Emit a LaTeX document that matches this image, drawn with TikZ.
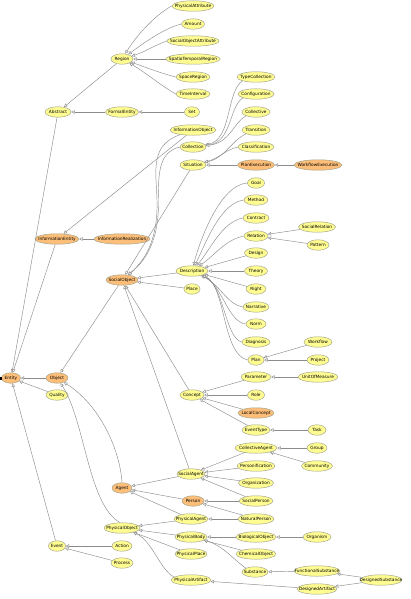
\documentclass[tikz,border=0pt]{standalone}
\usepackage{fontspec}
\setmainfont{DejaVu Sans}
\usetikzlibrary{shapes.geometric,arrows.meta}
\definecolor{yel}{RGB}{255,253,145}
\definecolor{org}{RGB}{252,190,120}
\definecolor{nodeborder}{RGB}{165,165,140}
\definecolor{edgecol}{RGB}{140,140,140}
\newcommand\YNode[4]{\node[yelnode,minimum width=#4pt] (#1) at (#2,#3) {\makebox[0pt]{#1}};}
\newcommand\ONode[4]{\node[orgnode,minimum width=#4pt] (#1) at (#2,#3) {\makebox[0pt]{#1}};}
\newcommand\isaedge[2]{\draw[isa] (#1) -- (#2);}
\begin{document}
\begin{tikzpicture}[x=1pt,y=-1pt,
 basenode/.style={ellipse, inner sep=0pt, minimum height=10.5pt, line width=0.5pt, draw=nodeborder, font=\fontsize{4.3}{5}\selectfont, text=black},
 yelnode/.style={basenode, fill=yel},
 orgnode/.style={basenode, fill=org},
 isa/.style={draw=edgecol, line width=0.45pt, -{Triangle[open,length=3.4pt,width=3.4pt,fill=white]}},
]
\useasboundingbox (0,0) rectangle (410,599);
% top: Region
\YNode{PhysicalAttribute}{193}{6}{42}
\YNode{Amount}{193}{24}{23}
\YNode{SocialObjectAttribute}{193}{41}{52}
\YNode{SpatioTemporalRegion}{193}{59}{54}
\YNode{SpaceRegion}{193}{77}{34}
\YNode{TimeInterval}{193}{94}{34}
\YNode{Region}{122}{59}{22}
\YNode{Abstract}{58}{112}{26}
\YNode{FormalEntity}{122}{112}{33}
\YNode{Set}{192}{112}{15}
\YNode{InformationObject}{193}{130}{46}
\YNode{TypeCollection}{256}{77}{38}
\YNode{Configuration}{256}{94}{36}
\YNode{Collective}{256}{112}{28}
\YNode{Transition}{256}{130}{28}
\YNode{Classification}{256}{147}{36}
\YNode{Collection}{193}{147}{26}
\YNode{Situation}{193}{165}{26}
\ONode{PlanExecution}{256}{165}{37}
\ONode{WorkflowExecution}{318}{165}{48}
% Description
\YNode{Goal}{256}{183}{17}
\YNode{Method}{256}{200}{24}
\YNode{Contract}{256}{218}{26}
\YNode{Relation}{256}{236}{24}
\YNode{SocialRelation}{317}{227}{37}
\YNode{Pattern}{318}{245}{22}
\YNode{Design}{256}{253}{23}
\YNode{Description}{192}{271}{32}
\YNode{Theory}{256}{271}{23}
\YNode{Right}{256}{289}{20}
\YNode{Narrative}{256}{307}{26}
\YNode{Norm}{256}{324}{20}
\YNode{Diagnosis}{256}{342}{28}
\YNode{Plan}{256}{360}{16}
\YNode{Workflow}{318}{342}{28}
\YNode{Project}{318}{360}{22}
\ONode{InformationEntity}{57}{239}{44}
\ONode{InformationRealization}{122}{239}{56}
\ONode{SocialObject}{122}{280}{32}
\YNode{Place}{192}{289}{16}
% Concept
\YNode{Parameter}{256}{377}{30}
\YNode{UnitOfMeasure}{318}{377}{40}
\YNode{Concept}{192}{395}{24}
\YNode{Role}{256}{395}{17}
\ONode{LocalConcept}{256}{413}{36}
\YNode{EventType}{256}{430}{28}
\YNode{Task}{317}{430}{18}
% Entity
\ONode{Entity}{11}{378}{19}
\ONode{Object}{57}{378}{22}
\YNode{Quality}{57}{395}{22}
% Agents
\YNode{CollectiveAgent}{256}{448}{42}
\YNode{Group}{317}{448}{20}
\YNode{Community}{317}{466}{31}
\YNode{Personification}{256}{466}{38}
\YNode{Organization}{256}{483}{35}
\YNode{SocialPerson}{256}{501}{34}
\YNode{NaturalPerson}{256}{519}{36}
\YNode{BiologicalObject}{256}{537}{40}
\YNode{Organism}{317}{537}{28}
\YNode{ChemicalObject}{256}{554}{40}
\YNode{Substance}{255}{572}{26}
\YNode{FunctionalSubstance}{317}{571}{46}
\YNode{DesignedSubstance}{381}{580}{42}
\YNode{DesignedArtifact}{317}{589}{40}
\YNode{SocialAgent}{191}{474}{28}
\ONode{Person}{193}{501}{22}
\YNode{PhysicalAgent}{191}{519}{34}
\YNode{PhysicalBody}{191}{537}{32}
\YNode{PhysicalPlace}{191}{554}{32}
\YNode{PhysicalArtifact}{191}{580}{40}
\ONode{Agent}{122}{488}{20}
\YNode{PhysicalObject}{122}{528}{36}
\YNode{Event}{57}{546}{17}
\YNode{Action}{122}{546}{20}
\YNode{Process}{122}{563}{22}
\fill[black] (0,376.6) rectangle (1.8,379.6);
% edges: Region
\draw[isa] (PhysicalAttribute.west) .. controls (160,12) and (140,30) .. (Region);
\draw[isa] (Amount.west) .. controls (165,28) and (145,42) .. (Region);
\draw[isa] (SocialObjectAttribute.west) .. controls (155,45) and (145,52) .. (Region);
\isaedge{SpatioTemporalRegion}{Region}
\draw[isa] (SpaceRegion.west) .. controls (160,73) and (145,67) .. (Region);
\draw[isa] (TimeInterval.west) .. controls (160,85) and (145,72) .. (Region);
\isaedge{Region}{Abstract}
\isaedge{FormalEntity}{Abstract}
\isaedge{Set}{FormalEntity}
\isaedge{Abstract}{Entity}
% Collection / Situation
\draw[isa] (TypeCollection.south west) .. controls (226,92) and (232,140) .. (Collection);
\draw[isa] (Configuration.south west) .. controls (229,106) and (232,142) .. (Collection);
\draw[isa] (Collective.south west) .. controls (234,122) and (230,143) .. (Collection);
\draw[isa] (Transition.south west) .. controls (232,140) and (225,158) .. (Situation);
\draw[isa] (Classification.west) .. controls (225,150) and (220,158) .. (Situation);
\isaedge{PlanExecution}{Situation}
\isaedge{WorkflowExecution}{PlanExecution}
\isaedge{InformationObject}{InformationEntity}
\isaedge{InformationRealization}{InformationEntity}
\isaedge{InformationEntity}{Entity}
\coordinate (bendA) at (157,200);
\coordinate (bendB) at (158.5,200);
\draw[isa] (InformationObject.200) .. controls (150,145) and (156,170) .. (bendA) .. controls (158,235) and (148,258) .. (SocialObject);
\draw[isa] (Collection.west) .. controls (160,152) and (158,170) .. (bendB) .. controls (159,236) and (149,258) .. (SocialObject);
\isaedge{Situation}{SocialObject}
% Description
\draw[isa] (Goal.west) .. controls (220,185) and (200,240) .. (Description);
\draw[isa] (Method.west) .. controls (220,203) and (205,245) .. (Description);
\draw[isa] (Contract.west) .. controls (222,222) and (210,250) .. (Description);
\draw[isa] (Relation.west) .. controls (225,240) and (215,255) .. (Description);
\isaedge{Design}{Description}
\isaedge{Theory}{Description}
\isaedge{Right}{Description}
\draw[isa] (Narrative.west) .. controls (228,305) and (220,285) .. (Description);
\draw[isa] (Norm.west) .. controls (228,322) and (222,285) .. (Description);
\draw[isa] (Diagnosis.west) .. controls (225,338) and (224,285) .. (Description);
\draw[isa] (Plan.west) .. controls (222,355) and (226,285) .. (Description);
\isaedge{SocialRelation}{Relation}
\isaedge{Pattern}{Relation}
\isaedge{Workflow}{Plan}
\isaedge{Project}{Plan}
\isaedge{Description}{SocialObject}
\isaedge{Place}{SocialObject}
% Concept
\isaedge{Parameter}{Concept}
\isaedge{Role}{Concept}
\isaedge{LocalConcept}{Concept}
\isaedge{EventType}{Concept}
\isaedge{UnitOfMeasure}{Parameter}
\isaedge{Task}{EventType}
\isaedge{Concept}{SocialObject}
\isaedge{SocialAgent}{SocialObject}
\isaedge{SocialObject}{Object}
% Entity
\isaedge{Object}{Entity}
\isaedge{Quality}{Entity}
\isaedge{Event}{Entity}
\isaedge{Action}{Event}
\isaedge{Process}{Event}
% Agents
\draw[isa] (Agent.north) .. controls (120,450) and (100,405) .. (Object);
\draw[isa] (PhysicalObject.110) .. controls (88,505) and (85,420) .. (Object);
\isaedge{SocialAgent}{Agent}
\isaedge{Person}{Agent}
\isaedge{PhysicalAgent}{Agent}
\isaedge{CollectiveAgent}{SocialAgent}
\isaedge{Personification}{SocialAgent}
\isaedge{Organization}{SocialAgent}
\isaedge{SocialPerson}{SocialAgent}
\isaedge{Group}{CollectiveAgent}
\isaedge{Community}{CollectiveAgent}
\isaedge{SocialPerson}{Person}
\isaedge{NaturalPerson}{Person}
\isaedge{NaturalPerson}{PhysicalAgent}
\isaedge{PhysicalAgent}{PhysicalObject}
\isaedge{PhysicalBody}{PhysicalObject}
\isaedge{PhysicalPlace}{PhysicalObject}
\draw[isa] (PhysicalArtifact.170) .. controls (160,570) and (152,540) .. (PhysicalObject);
\isaedge{BiologicalObject}{PhysicalBody}
\isaedge{Organism}{BiologicalObject}
\isaedge{ChemicalObject}{PhysicalBody}
\draw[isa] (Substance.north west) .. controls (232,558) and (222,545) .. (PhysicalBody);
\isaedge{FunctionalSubstance}{Substance}
\isaedge{DesignedSubstance}{FunctionalSubstance}
\isaedge{DesignedSubstance}{DesignedArtifact}
\isaedge{DesignedArtifact}{PhysicalArtifact}
\end{tikzpicture}
\end{document}
